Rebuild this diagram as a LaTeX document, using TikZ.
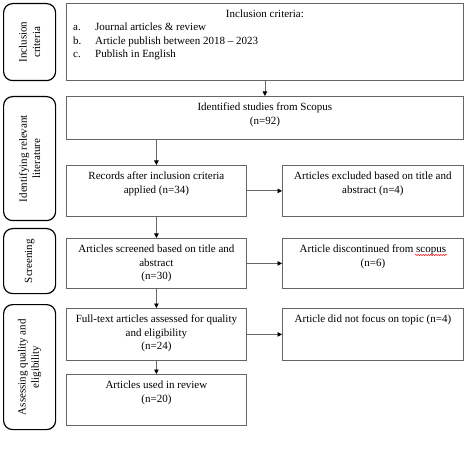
\documentclass[tikz,border=0pt]{standalone}
\usepackage{fontspec}
\setmainfont{Liberation Serif}
\usetikzlibrary{arrows.meta,decorations.pathmorphing}
\begin{document}
\begin{tikzpicture}[x=1pt,y=-1pt,
  font=\fontsize{11}{13.3}\selectfont,
  box/.style={draw=black!60, line width=0.8pt, anchor=north west, inner sep=0pt},
  stage/.style={draw=black, line width=1.2pt, rounded corners=9pt, anchor=north west, inner sep=0pt, minimum width=52pt},
  txt/.style={anchor=north, inner sep=0pt, align=center},
  vtxt/.style={rotate=90, align=center, inner sep=0pt},
  arr/.style={draw=black!60, line width=0.8pt, -{Triangle[length=4.5pt,width=4.5pt,color=black]}},
  spell/.style={draw=red, line width=0.5pt, decorate, decoration={snake, amplitude=0.6pt, segment length=2.5pt}}]
\useasboundingbox (0,0) rectangle (466,457);

% stage labels
\node[stage, minimum height=77pt] (s1) at (3,3) {};
\node[stage, minimum height=124pt] (s2) at (3,96) {};
\node[stage, minimum height=65pt] (s3) at (3,228) {};
\node[stage, minimum height=125pt] (s4) at (3,304) {};
\node[vtxt] (s1t) at (s1.center) {Inclusion\\criteria};
\node[vtxt] (s2t) at (s2.center) {Identifying relevant\\literature};
\node[vtxt] (s3t) at (s3.center) {Screening};
\node[vtxt] (s4t) at (s4.center) {Assessing quality and\\eligibility};

% boxes
\node[box, minimum width=397pt, minimum height=77pt] (incl) at (66,3) {};
\node[box, minimum width=397pt, minimum height=43pt] (ident) at (66,96) {};
\node[box, minimum width=180pt, minimum height=51pt] (rec) at (66,165) {};
\node[box, minimum width=181pt, minimum height=51pt] (excl) at (282,165) {};
\node[box, minimum width=180pt, minimum height=50pt] (scr) at (66,238) {};
\node[box, minimum width=181pt, minimum height=50pt] (disc) at (282,238) {};
\node[box, minimum width=180pt, minimum height=52pt] (full) at (66,308) {};
\node[box, minimum width=181pt, minimum height=52pt] (focus) at (282,308) {};
\node[box, minimum width=180pt, minimum height=51pt] (used) at (66,374) {};

% texts
\node[txt] (inclt) at ([yshift=-7pt]incl.north) {Inclusion criteria:};
\node[anchor=north west, inner sep=0pt, align=left] (incll) at (73,23)
  {\makebox[22pt][l]{a.}Journal articles \& review\\
   \makebox[22pt][l]{b.}Article publish between 2018 -- 2023\\
   \makebox[22pt][l]{c.}Publish in English};
\node[txt] (identt) at ([yshift=-7pt]ident.north) {Identified studies from Scopus\\(n=92)};
\node[txt] (rect) at ([yshift=-7pt]rec.north) {Records after inclusion criteria\\applied (n=34)};
\node[txt] (exclt) at ([yshift=-7pt]excl.north) {Articles excluded based on title and\\abstract (n=4)};
\node[txt] (scrt) at ([yshift=-7pt]scr.north) {Articles screened based on title and\\abstract\\(n=30)};
\node[txt] (disct) at ([yshift=-7pt]disc.north) {Article discontinued from scopus\\(n=6)};
\node[txt] (fullt) at ([yshift=-7pt]full.north) {Full-text articles assessed for quality\\and eligibility\\(n=24)};
\node[txt] (focust) at ([yshift=-7pt]focus.north) {Article did not focus on topic (n=4)};
\node[txt] (usedt) at ([yshift=-7pt]used.north) {Articles used in review\\(n=20)};

% spell-check underline
\draw[spell] (415,255) -- (447,255);

% arrows
\draw[arr] (incl.south) -- (ident.north);
\draw[arr] (rec.north |- ident.south) -- (rec.north);
\draw[arr] (rec.south) -- (scr.north);
\draw[arr] (scr.south) -- (full.north);
\draw[arr] (full.south) -- (used.north);
\draw[arr] (rec.east) -- (excl.west);
\draw[arr] (scr.east) -- (disc.west);
\draw[arr] (full.east) -- (focus.west);
\end{tikzpicture}
\end{document}
